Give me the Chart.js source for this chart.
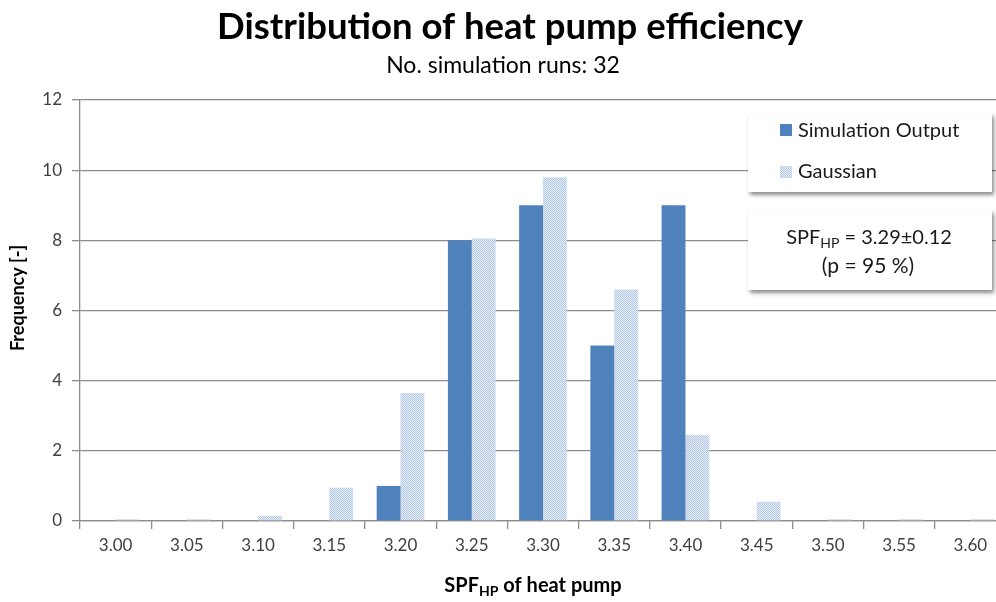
<!DOCTYPE html>
<html>
<head>
<meta charset="utf-8">
<script src="https://cdn.jsdelivr.net/npm/chart.js@4"></script>
<style>
html,body{margin:0;padding:0;background:#fff;overflow:hidden;}
#wrap{width:1010px;height:602px;position:relative;}
</style>
</head>
<body>
<div id="wrap"><canvas id="c" width="1010" height="602"></canvas></div>
<script>
const categories = ["3.00","3.05","3.10","3.15","3.20","3.25","3.30","3.35","3.40","3.45","3.50","3.55","3.60"];
const simulationOutput = [0,0,0,0,1,8,9,5,9,0,0,0,0];
const gaussian = [0.05,0.05,0.15,0.95,3.65,8.05,9.8,6.6,2.45,0.55,0.05,0.05,0.05];
const yTicks = [0,2,4,6,8,10,12];

const FONT = "Lato, 'Open Sans', sans-serif";

function makePattern(){
  const p = document.createElement('canvas');
  p.width = 2; p.height = 2;
  const g = p.getContext('2d');
  g.fillStyle = '#e6edf7'; g.fillRect(0,0,2,2);
  g.fillStyle = '#b3c8e4'; g.fillRect(0,0,1,1); g.fillRect(1,1,1,1);
  return document.getElementById('c').getContext('2d').createPattern(p,'repeat');
}
const pattern = makePattern();

const decor = {
  id:'decor',
  afterDraw(chart){
    const ctx = chart.ctx;
    ctx.save();
    // title
    ctx.fillStyle = '#000';
    ctx.textAlign = 'center';
    ctx.textBaseline = 'middle';
    ctx.font = "bold 36.5px " + FONT;
    ctx.fillText("Distribution of heat pump efficiency", 510, 27);
    ctx.font = "23px " + FONT;
    ctx.fillText("No. simulation runs: 32", 503, 66);

    // y-axis title
    ctx.save();
    ctx.translate(18, 298);
    ctx.rotate(-Math.PI/2);
    ctx.font = "bold 18px " + FONT;
    ctx.fillText("Frequency [-]", 0, 0);
    ctx.restore();

    // x-axis title with subscript
    ctx.textAlign = 'left';
    ctx.textBaseline = 'alphabetic';
    const p1 = "SPF", p2 = "HP", p3 = " of heat pump";
    ctx.font = "bold 20px " + FONT;
    const w1 = ctx.measureText(p1).width;
    const w3 = ctx.measureText(p3).width;
    ctx.font = "bold 14px " + FONT;
    const w2 = ctx.measureText(p2).width;
    let x = 533 - (w1+w2+w3)/2;
    const by = 592;
    ctx.font = "bold 20px " + FONT; ctx.fillText(p1, x, by); x += w1;
    ctx.font = "bold 14px " + FONT; ctx.fillText(p2, x, by+4); x += w2;
    ctx.font = "bold 20px " + FONT; ctx.fillText(p3, x, by);

    // boxes with shadow
    function box(x0,y0,w,h){
      ctx.save();
      ctx.shadowColor = 'rgba(0,0,0,0.45)';
      ctx.shadowBlur = 4;
      ctx.shadowOffsetX = 2;
      ctx.shadowOffsetY = 3;
      ctx.fillStyle = '#fff';
      ctx.fillRect(x0,y0,w,h);
      ctx.restore();
    }
    box(748,113,244,79);
    box(748,210,244,80);

    // legend
    ctx.fillStyle = '#4f81bd';
    ctx.fillRect(780,124,12,12);
    ctx.fillStyle = pattern;
    ctx.fillRect(780,166,12,12);
    ctx.fillStyle = '#1a1a1a';
    ctx.font = "20px " + FONT;
    ctx.textBaseline = 'middle';
    ctx.textAlign = 'left';
    ctx.fillText("Simulation Output", 798, 131);
    ctx.fillText("Gaussian", 798, 172);

    // annotation
    ctx.font = "20px " + FONT;
    const a1 = "SPF", a2 = "HP", a3 = " = 3.29\u00b10.12";
    const aw1 = ctx.measureText(a1).width, aw3 = ctx.measureText(a3).width;
    ctx.font = "14px " + FONT;
    const aw2 = ctx.measureText(a2).width;
    let ax = 869 - (aw1+aw2+aw3)/2;
    ctx.textBaseline = 'alphabetic';
    ctx.font = "20px " + FONT; ctx.fillText(a1, ax, 244); ax += aw1;
    ctx.font = "14px " + FONT; ctx.fillText(a2, ax, 248); ax += aw2;
    ctx.font = "20px " + FONT; ctx.fillText(a3, ax, 244);
    ctx.textAlign = 'center';
    ctx.font = "21px " + FONT;
    ctx.fillText("(p = 95 %)", 868, 273);
    ctx.restore();
  }
};

new Chart(document.getElementById('c'), {
  type: 'bar',
  data: {
    labels: categories,
    datasets: [
      {label:'Simulation Output', data: simulationOutput, backgroundColor:'#4f81bd', barPercentage:1.0, categoryPercentage:0.67},
      {label:'Gaussian', data: gaussian, backgroundColor: pattern, barPercentage:1.0, categoryPercentage:0.67}
    ]
  },
  options: {
    responsive:false,
    animation:false,
    devicePixelRatio:1,
    layout:{padding:{left:0,right:4,top:100,bottom:0}},
    plugins:{legend:{display:false},title:{display:false},tooltip:{enabled:false}},
    scales:{
      x:{
        grid:{display:true, offset:true, drawOnChartArea:false, drawTicks:true, tickLength:8, color:'#8c8c8c', lineWidth:1.3},
        border:{display:true, color:'#8c8c8c', width:1.3},
        ticks:{color:'#404040', font:{family:FONT, size:17}, padding:6, maxRotation:0, autoSkip:false},
        afterFit(s){ s.height = 81; }
      },
      y:{
        min:0, max:12,
        afterBuildTicks(s){ s.ticks = yTicks.map(v=>({value:v})); },
        grid:{color:'#8c8c8c', lineWidth:1.3, tickLength:8},
        border:{display:true, color:'#8c8c8c', width:1.3},
        ticks:{color:'#404040', font:{family:FONT, size:17}, padding:10},
        afterFit(s){ s.width = 80; }
      }
    }
  },
  plugins:[decor]
});
</script>
</body>
</html>
